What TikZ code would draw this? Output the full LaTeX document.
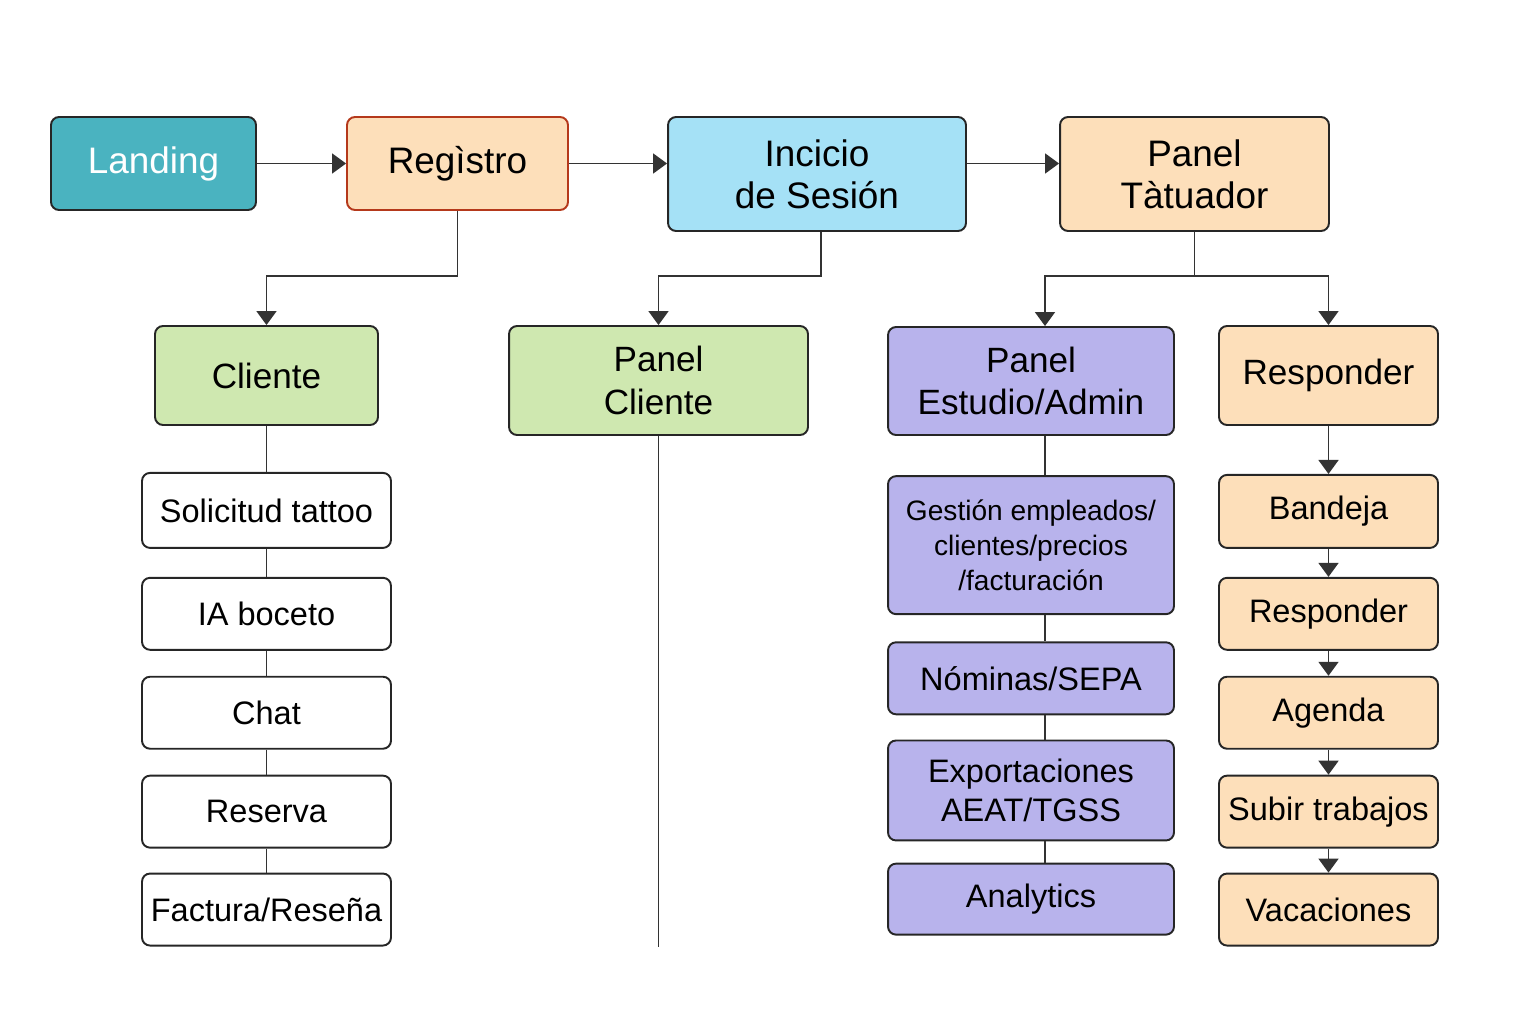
\documentclass[tikz,border=0pt]{standalone}
\usepackage{fontspec}
\setmainfont{Liberation Sans}
\usepackage{xcolor}
\definecolor{landingteal}{HTML}{4AB3C0}
\definecolor{peach}{HTML}{FDDFBA}
\definecolor{rust}{HTML}{B5391B}
\definecolor{skyblue}{HTML}{A5E1F6}
\definecolor{leaf}{HTML}{CFE8B0}
\definecolor{lavender}{HTML}{B8B3EC}
\usepackage{tikz}
\usetikzlibrary{arrows.meta, positioning, calc}

\begin{document}
\begin{tikzpicture}[x=0.02cm, y=-0.02cm, node distance=0.525cm]
        % Define block styles
        \tikzstyle{box} = [rectangle, draw=black!85, line width=1.1pt, rounded corners=0.16cm, fill=white, align=center, inner sep=0pt, font=\fontsize{18.5}{24}\selectfont]
        \tikzstyle{topbox} = [box, font=\fontsize{21}{24}\selectfont]
        \tikzstyle{line} = [draw, line width=1pt, black!80, -{Triangle[length=0.28cm, width=0.4cm]}]
        \tikzstyle{link} = [draw, line width=1pt, black!80]

        \useasboundingbox (0,0) rectangle (1536,1024);

        % Nodes

        \node [topbox, fill=landingteal, text=white, minimum width=4.1cm, minimum height=1.86cm] (landing) at (153.5,163.5) {Landing};
        \node [topbox, fill=peach, draw=rust, minimum width=4.42cm, minimum height=1.86cm] (registro) at (457.5,163.5) {Regìstro};
        \node [topbox, fill=skyblue, minimum width=5.96cm, minimum height=2.28cm] (inicio) at (817,174) {Incicio\\de Sesión};
        \node [topbox, fill=peach, minimum width=5.38cm, minimum height=2.28cm] (tatuador) at (1194.5,174) {Panel\\Tàtuador};

        \node [box, fill=leaf, font=\fontsize{20}{24}\selectfont, minimum width=4.46cm, minimum height=1.98cm] (cliente) at (266.5,375.5) {Cliente};
        \node [box, fill=leaf, font=\fontsize{20}{24}\selectfont, minimum width=5.98cm, minimum height=2.18cm] (pcliente) at (658.5,380.5) {Panel\\Cliente};
        \node [box, fill=lavender, font=\fontsize{20}{24}\selectfont, minimum width=5.72cm, minimum height=2.16cm] (admin) at (1031,381) {Panel\\Estudio/Admin};
        \node [box, fill=peach, font=\fontsize{20}{24}\selectfont, minimum width=4.38cm, minimum height=1.98cm] (responder) at (1328.5,375.5) {Responder};

        % Lists
        \node [box, below=0.92cm of cliente, minimum width=4.98cm, minimum height=1.5cm] (solicitud) {Solicitud tattoo};
        \node [box, below=0.56cm of solicitud, minimum width=4.98cm, minimum height=1.44cm] (boceto) {IA boceto};
        \node [box, below=0.5cm of boceto, minimum width=4.98cm, minimum height=1.44cm] (chat) {Chat};
        \node [box, below=0.5cm of chat, minimum width=4.98cm, minimum height=1.44cm] (reserva) {Reserva};
        \node [box, below=0.48cm of reserva, minimum width=4.98cm, minimum height=1.44cm] (factura) {Factura/Reseña};

        \node [box, fill=lavender, below=0.785cm of admin, minimum width=5.72cm, minimum height=2.76cm, font=\fontsize{16}{20}\selectfont] (gestion) {Gestión empleados/\\clientes/precios\\/facturación};
        \node [box, fill=lavender, below=of gestion, minimum width=5.72cm, minimum height=1.44cm] (nominas) {Nóminas/SEPA};
        \node [box, fill=lavender, below=0.485cm of nominas, minimum width=5.72cm, minimum height=2cm, font=\fontsize{18.5}{22}\selectfont] (exportar) {Exportaciones\\AEAT/TGSS};
        \node [box, fill=lavender, below=0.425cm of exportar, minimum width=5.72cm, minimum height=1.42cm] (analytics) {Analytics};

        \node [box, fill=peach, below=0.96cm of responder, minimum width=4.38cm, minimum height=1.46cm] (bandeja) {Bandeja};
        \node [box, fill=peach, below=0.56cm of bandeja, minimum width=4.38cm, minimum height=1.44cm] (responder2) {Responder};
        \node [box, fill=peach, below=0.5cm of responder2, minimum width=4.38cm, minimum height=1.44cm] (agenda) {Agenda};
        \node [box, fill=peach, below=0.5cm of agenda, minimum width=4.38cm, minimum height=1.44cm] (subir) {Subir trabajos};
        \node [box, fill=peach, below=0.48cm of subir, minimum width=4.38cm, minimum height=1.44cm] (vacaciones) {Vacaciones};

        % Paths
        \path [line] (landing) -- (registro);
        \path [line] (registro.east) -- (registro.east -| inicio.west);
        \path [line] (inicio.east |- registro.east) -- (registro.east -| tatuador.west);

        \path [line] (registro.south) -- ++(0,65) -| (cliente.north);
        \path [line] ([xshift=0.08cm]inicio.south) -- ++(0,44) -| (pcliente.north);
        \path [link] (tatuador.south) -- ++(0,44) coordinate (split);
        \path [line] (split) -| ([xshift=0.28cm]admin.north);
        \path [line] (split) -| (responder.north);

        \path [link] (cliente.south) -- (solicitud.north);
        \path [link] (solicitud) -- (boceto);
        \path [link] (boceto) -- (chat);
        \path [link] (chat) -- (reserva);
        \path [link] (reserva) -- (factura);

        \path [link] (pcliente.south) -- (pcliente.south |- factura.south);

        \path [link] ([xshift=0.28cm]admin.south) -- ([xshift=0.28cm]gestion.north);
        \path [link] ([xshift=0.28cm]gestion.south) -- ([xshift=0.28cm]nominas.north);
        \path [link] ([xshift=0.28cm]nominas.south) -- ([xshift=0.28cm]exportar.north);
        \path [link] ([xshift=0.28cm]exportar.south) -- ([xshift=0.28cm]analytics.north);

        \path [line] (responder) -- (bandeja);
        \path [line] (bandeja) -- (responder2);
        \path [line] (responder2) -- (agenda);
        \path [line] (agenda) -- (subir);
        \path [line] (subir) -- (vacaciones);

\end{tikzpicture}
\end{document}
